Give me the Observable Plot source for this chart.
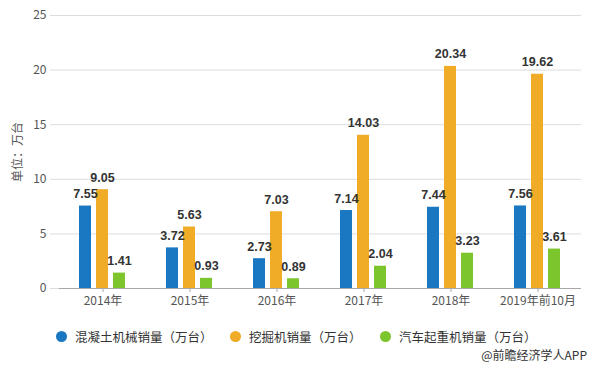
<!DOCTYPE html>
<html><head><meta charset="utf-8">
<script src="https://cdn.jsdelivr.net/npm/d3@7"></script>
<script src="https://cdn.jsdelivr.net/npm/@observablehq/plot@0.6"></script>
<style>
body{margin:0;background:#fff;font-family:"Noto Sans CJK SC","Noto Sans",sans-serif;}
#wrap{position:relative;width:592px;height:369px;overflow:hidden;}
#chart svg{display:block;}
.item{position:absolute;top:326px;height:20px;display:flex;align-items:center;font-size:12.5px;color:#333;white-space:nowrap;}
.dot{width:11px;height:11px;border-radius:50%;margin-right:8px;}
#cap{position:absolute;right:5px;top:346px;font-size:12px;color:#333;line-height:18px;}
</style></head><body>
<div id="wrap"><div id="chart"></div><div id="legend"></div><div id="cap">@前瞻经济学人APP</div></div>
<script>
const years = ["2014年","2015年","2016年","2017年","2018年","2019年前10月"];
const seriesNames = ["混凝土机械销量（万台）","挖掘机销量（万台）","汽车起重机销量（万台）"];
const concrete = [7.55,3.72,2.73,7.14,7.44,7.56];
const excavator = [9.05,5.63,7.03,14.03,20.34,19.62];
const crane = [1.41,0.93,0.89,2.04,3.23,3.61];
const colors = ["#1a78c2","#f0ab27","#7cc52c"];
const yTicks = [0,5,10,15,20,25];
const yLabel = "单位：万台";

const seriesValues = [concrete, excavator, crane];
const data = [];
years.forEach((yr, i) => seriesValues.forEach((vals, s) => data.push({year: yr, series: seriesNames[s], value: vals[i]})));

const chart = Plot.plot({
  width: 592,
  height: 315,
  marginLeft: 57,
  marginRight: 9,
  marginTop: 15,
  marginBottom: 27,
  style: {fontFamily: '"Noto Sans CJK SC","Noto Sans",sans-serif', fontSize: "12px", background: "#fff", color: "#555"},
  fx: {domain: years, padding: 0, label: null, axis: null},
  x: {domain: seriesNames, paddingInner: 0.27, paddingOuter: 1.14, axis: null},
  y: {domain: [0, 25], axis: null},
  color: {domain: seriesNames, range: colors},
  marks: [
    Plot.gridY(yTicks, {stroke: "#dcdcdc", strokeOpacity: 1}),
    Plot.axisY(yTicks, {tickSize: 9, tickPadding: 4, stroke: "#dcdcdc", fill: "#555", fontSize: 12,
      label: yLabel, labelAnchor: "center", labelArrow: "none", labelOffset: 46}),
    Plot.ruleY([0], {stroke: "#a8a8a8"}),
    Plot.barY(data, {fx: "year", x: "series", y: "value", fill: "series"}),
    Plot.text(data, {fx: "year", x: "series", y: "value", text: d => d.value.toFixed(2), dy: -12,
      fontWeight: "bold", fontSize: 12.5, fill: "#333", fontFamily: '"Liberation Sans",Arial,sans-serif'}),
    Plot.axisFx({anchor: "bottom", tickSize: 4, tickPadding: 4, stroke: "#a8a8a8", fill: "#555", fontSize: 12, label: null})
  ]
});
document.getElementById("chart").appendChild(chart);

const legendLeft = [56, 230, 380];
const legend = document.getElementById("legend");
seriesNames.forEach((name, i) => {
  const it = document.createElement("div");
  it.className = "item";
  it.style.left = legendLeft[i] + "px";
  it.innerHTML = `<span class="dot" style="background:${colors[i]}"></span><span>${name}</span>`;
  legend.appendChild(it);
});
</script>
</body></html>
